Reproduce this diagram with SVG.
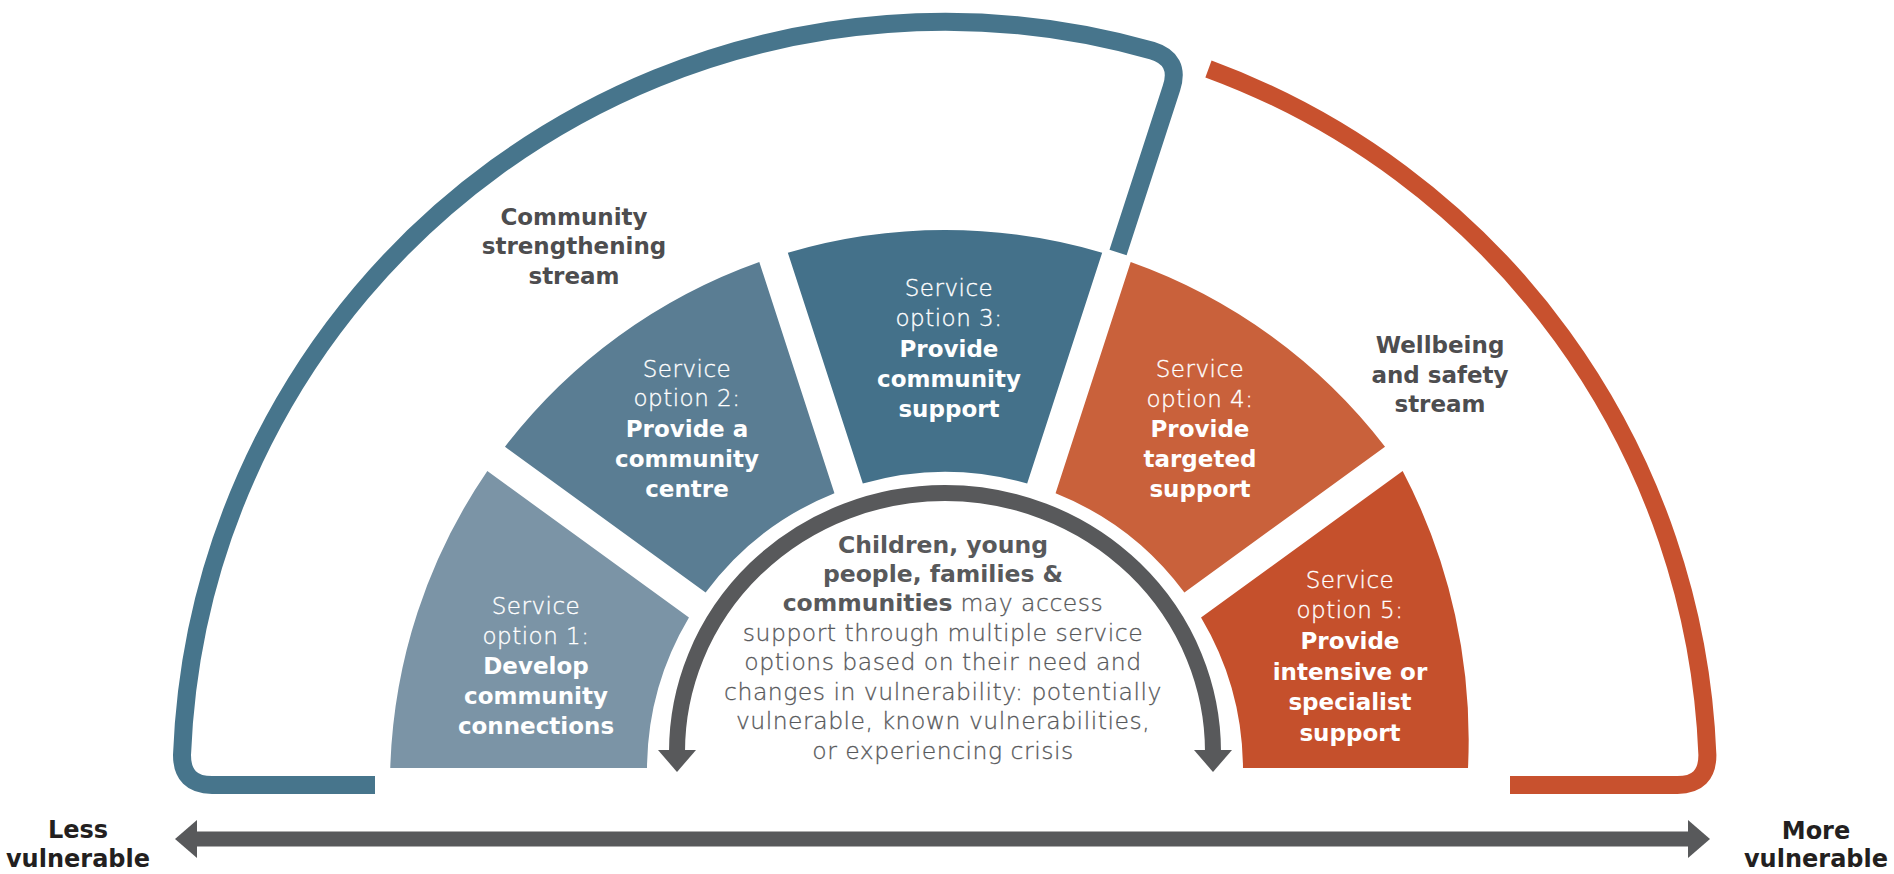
<svg xmlns="http://www.w3.org/2000/svg" width="1894" height="874" viewBox="0 0 1894 874">
<defs>
<style>
text { font-family: "DejaVu Sans", "Liberation Sans", sans-serif; text-anchor: middle; }
.w { fill: #FFFFFF; font-size: 23px; }
.w.lt { stroke: #FFFFFF; stroke-width: 0.35px; }
.lt { font-weight: 200; letter-spacing: 0.5px; }
.b { font-weight: bold; }
.stream { fill: #4D4D4F; font-size: 23px; font-weight: bold; }
.mid { fill: #58595B; font-size: 23.5px; }
.mid.lt, .mid .lt { stroke: #58595B; stroke-width: 0.3px; }
.axis { fill: #231F20; font-size: 24px; font-weight: bold; }
.bracket { fill: none; stroke-width: 18; stroke-linecap: butt; stroke-linejoin: round; }
.conn { fill: none; stroke: #58595B; }
</style>
<marker id="ah" markerUnits="userSpaceOnUse" markerWidth="22" markerHeight="38" viewBox="0 0 22 38" refX="2" refY="19" orient="auto-start-reverse">
<path d="M0,0 L22,19 L0,38 Z" fill="#58595B"/>
</marker>
</defs>
<rect width="1894" height="874" fill="#FFFFFF"/>

<g id="brackets">
<path id="bracket-community" class="bracket" stroke="#47758C" d="M 375 785 H 212 Q 182 785 182 755 A 763 763 0 0 1 1152.11 50.64 Q 1180.78 59.34 1171.51 87.88 L 1118.05 252.41"/>
<path id="bracket-wellbeing" class="bracket" stroke="#C8512E" d="M 1208.46 68.93 A 763 763 0 0 1 1707.4 755 Q 1707.4 785 1677.4 785 H 1510"/>
</g>

<g id="seg1">
<path fill="#7B94A6" d="M 390.26 768 A 555 555 0 0 1 487.34 471.04 L 688.96 617.53 A 298 298 0 0 0 647.01 768 Z"/>
<text class="w lt" x="536" y="614">Service</text>
<text class="w lt" x="536" y="644">option 1:</text>
<text class="w b" x="536" y="674">Develop</text>
<text class="w b" x="536" y="704">community</text>
<text class="w b" x="536" y="734">connections</text>
</g>

<g id="seg2">
<path fill="#5A7D93" d="M 504.98 446.76 A 555 555 0 0 1 759.29 261.99 L 834.43 493.27 A 298 298 0 0 0 705.61 592.52 Z"/>
<text class="w lt" x="687" y="377">Service</text>
<text class="w lt" x="687" y="406">option 2:</text>
<text class="w b" x="687" y="437">Provide a</text>
<text class="w b" x="687" y="467">community</text>
<text class="w b" x="687" y="497">centre</text>
</g>

<g id="seg3">
<path fill="#44718A" d="M 787.83 252.71 A 555 555 0 0 1 1102.17 252.71 L 1027.17 483.54 A 298 298 0 0 0 862.83 483.54 Z"/>
<text class="w lt" x="949" y="296">Service</text>
<text class="w lt" x="949" y="326">option 3:</text>
<text class="w b" x="949" y="357">Provide</text>
<text class="w b" x="949" y="387">community</text>
<text class="w b" x="949" y="417">support</text>
</g>

<g id="seg4">
<path fill="#C9613B" d="M 1130.71 261.99 A 555 555 0 0 1 1385.02 446.76 L 1184.39 592.52 A 298 298 0 0 0 1055.57 493.27 Z"/>
<text class="w lt" x="1200" y="377">Service</text>
<text class="w lt" x="1200" y="407">option 4:</text>
<text class="w b" x="1200" y="437">Provide</text>
<text class="w b" x="1200" y="467">targeted</text>
<text class="w b" x="1200" y="497">support</text>
</g>

<g id="seg5">
<path fill="#C5502C" d="M 1402.66 471.04 A 580 580 0 0 1 1468 768 L 1242.99 768 A 298 298 0 0 0 1201.04 617.53 Z"/>
<text class="w lt" x="1350" y="588">Service</text>
<text class="w lt" x="1350" y="618">option 5:</text>
<text class="w b" x="1350" y="649">Provide</text>
<text class="w b" x="1350" y="680">intensive or</text>
<text class="w b" x="1350" y="710">specialist</text>
<text class="w b" x="1350" y="741">support</text>
</g>

<g id="stream-community">
<text class="stream" x="574" y="225">Community</text>
<text class="stream" x="574" y="254">strengthening</text>
<text class="stream" x="574" y="284">stream</text>
</g>

<g id="stream-wellbeing">
<text class="stream" x="1440" y="353">Wellbeing</text>
<text class="stream" x="1440" y="383">and safety</text>
<text class="stream" x="1440" y="412">stream</text>
</g>

<g id="centre-text">
<text class="mid b" x="943" y="553">Children, young</text>
<text class="mid b" x="943" y="582">people, families &amp;</text>
<text class="mid" x="943" y="611"><tspan class="b">communities</tspan><tspan class="lt"> may access</tspan></text>
<text class="mid lt" x="943" y="641">support through multiple service</text>
<text class="mid lt" x="943" y="670">options based on their need and</text>
<text class="mid lt" x="943" y="700">changes in vulnerability: potentially</text>
<text class="mid lt" x="943" y="729">vulnerable, known vulnerabilities,</text>
<text class="mid lt" x="943" y="759">or experiencing crisis</text>
</g>

<g id="label-less">
<text class="axis" x="78" y="838">Less</text>
<text class="axis" x="78" y="867">vulnerable</text>
</g>

<g id="label-more">
<text class="axis" x="1816" y="839">More</text>
<text class="axis" x="1816" y="867">vulnerable</text>
</g>

<g id="connectors">
<path id="journey-arrow" class="conn" stroke-width="16" d="M 677 752 A 268 259 0 0 1 1213 752" marker-start="url(#ah)" marker-end="url(#ah)"/>
<path id="vulnerability-axis" class="conn" stroke-width="15" d="M 195 839 H 1690" marker-start="url(#ah)" marker-end="url(#ah)"/>
</g>
</svg>
